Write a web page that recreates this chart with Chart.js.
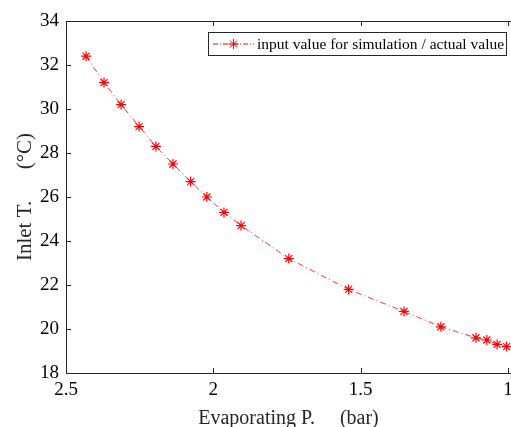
<!DOCTYPE html>
<html>
<head>
<meta charset="utf-8">
<script src="https://cdn.jsdelivr.net/npm/chart.js@4.4.1/dist/chart.umd.min.js"></script>
<style>
  html, body { margin: 0; padding: 0; background: #ffffff; overflow: hidden; }
  #wrap { width: 511px; height: 427px; position: relative; }
</style>
</head>
<body>
<div id="wrap"><canvas id="c" width="511" height="427"></canvas></div>
<script>
// Data
const evaporatingPressure = [2.432, 2.371, 2.313, 2.252, 2.195, 2.137, 2.077, 2.022, 1.964, 1.906, 1.744, 1.541, 1.353, 1.228, 1.109, 1.072, 1.037, 1.005];
const inletTemperature   = [32.4, 31.2, 30.2, 29.2, 28.3, 27.5, 26.7, 26.0, 25.3, 24.7, 23.2, 21.8, 20.8, 20.1, 19.6, 19.5, 19.3, 19.2];
const xTickValues = [2.5, 2, 1.5, 1];
const yTickValues = [18, 20, 22, 24, 26, 28, 30, 32, 34];
const seriesLabel = 'input value for simulation / actual value';
const xTitle = 'Evaporating P.     (bar)';
const yTitle = 'Inlet T.      (\u00B0C)';

const FONT = '"Liberation Serif", "Times New Roman", serif';
const AXIS_COLOR = '#262626';

const points = evaporatingPressure.map((p, i) => ({ x: p, y: inletTemperature[i] }));

// Inward ticks + top border + in-plot legend
const decorPlugin = {
  id: 'decor',
  afterDraw(chart) {
    const { ctx, chartArea: a, scales } = chart;
    const len = 5;
    ctx.save();
    ctx.strokeStyle = AXIS_COLOR;
    ctx.lineWidth = 1;
    // top border
    ctx.beginPath();
    ctx.moveTo(a.left, a.top + 0.5);
    ctx.lineTo(a.right, a.top + 0.5);
    ctx.stroke();
    ctx.beginPath();
    scales.x.ticks.forEach(t => {
      const px = Math.round(scales.x.getPixelForValue(t.value)) + 0.5;
      ctx.moveTo(px, a.bottom); ctx.lineTo(px, a.bottom - len);
      ctx.moveTo(px, a.top); ctx.lineTo(px, a.top + len);
    });
    scales.y.ticks.forEach(t => {
      const py = Math.round(scales.y.getPixelForValue(t.value)) + 0.5;
      ctx.moveTo(a.left, py); ctx.lineTo(a.left + len, py);
    });
    ctx.stroke();

    // legend box
    const bx = 208.5, by = 32.5, bw = 298, bh = 23;
    ctx.fillStyle = '#ffffff';
    ctx.fillRect(bx, by, bw, bh);
    ctx.strokeStyle = AXIS_COLOR;
    ctx.lineWidth = 1;
    ctx.strokeRect(bx, by, bw, bh);
    const ly = by + bh / 2;
    ctx.strokeStyle = '#ff0000';
    ctx.lineWidth = 1;
    ctx.setLineDash([5, 2, 1, 2]);
    ctx.beginPath();
    ctx.moveTo(213, ly); ctx.lineTo(254, ly);
    ctx.stroke();
    ctx.setLineDash([]);
    // star marker
    const ds = chart.data.datasets[0];
    Chart.helpers.drawPoint(ctx, { pointStyle: 'star', radius: ds.pointRadius, borderWidth: ds.pointBorderWidth, rotation: 0 }, 233.5, ly);
    ctx.fillStyle = '#000000';
    ctx.font = '15.5px ' + FONT;
    ctx.textBaseline = 'middle';
    ctx.textAlign = 'left';
    ctx.fillText(ds.label, 257, ly + 1);
    ctx.restore();
  }
};

new Chart(document.getElementById('c'), {
  type: 'scatter',
  data: {
    datasets: [{
      label: seriesLabel,
      data: points,
      showLine: true,
      borderColor: '#ff0000',
      borderWidth: 0.8,
      borderDash: [6, 3, 1, 3],
      tension: 0,
      pointStyle: 'star',
      pointRadius: 5,
      pointBorderWidth: 1.2,
      pointBorderColor: '#ff0000',
      pointBackgroundColor: '#ff0000',
      pointHoverRadius: 5
    }]
  },
  options: {
    responsive: false,
    animation: false,
    events: [],
    layout: { autoPadding: false, padding: { top: 21, right: 0, left: 0, bottom: 0 } },
    plugins: {
      legend: { display: false },
      tooltip: { enabled: false }
    },
    scales: {
      x: {
        type: 'linear',
        reverse: true,
        min: 0.99,
        max: 2.5,
        afterBuildTicks(scale) { scale.ticks = xTickValues.map(v => ({ value: v })); },
        afterFit(scale) { scale.height = 54; scale.paddingLeft = 0; scale.paddingRight = 0; },
        grid: { display: false, drawTicks: false },
        border: { display: true, color: AXIS_COLOR, width: 1 },
        ticks: {
          color: '#000000',
          font: { family: FONT, size: 19 },
          padding: 6,
          maxRotation: 0,
          autoSkip: false,
          callback: v => String(v)
        },
        title: {
          display: true,
          text: xTitle,
          color: '#262626',
          font: { family: FONT, size: 20, lineHeight: 1 },
          padding: { top: 0, bottom: -2 }
        }
      },
      y: {
        type: 'linear',
        min: 18,
        max: 34,
        afterBuildTicks(scale) { scale.ticks = yTickValues.map(v => ({ value: v })); },
        afterFit(scale) { scale.width = 66; scale.paddingTop = 0; scale.paddingBottom = 0; },
        grid: { display: false, drawTicks: false },
        border: { display: true, color: AXIS_COLOR, width: 1 },
        ticks: {
          color: '#000000',
          font: { family: FONT, size: 19 },
          padding: 7,
          autoSkip: false,
          callback: v => String(v)
        },
        title: {
          display: true,
          text: yTitle,
          color: '#262626',
          font: { family: FONT, size: 21, lineHeight: 1 },
          padding: { top: 15, bottom: 0 }
        }
      }
    }
  },
  plugins: [decorPlugin]
});
</script>
</body>
</html>
